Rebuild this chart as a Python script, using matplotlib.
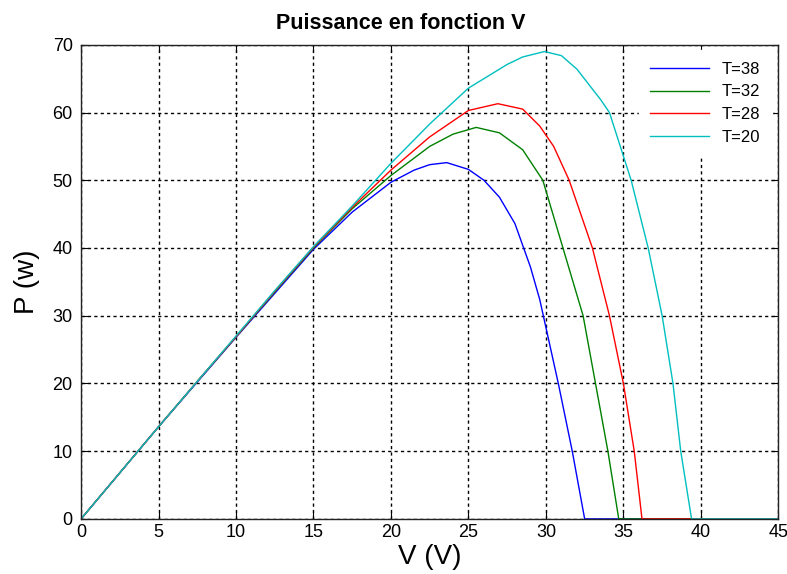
import matplotlib
matplotlib.use("Agg")
import matplotlib.pyplot as plt

plt.rcParams['font.family'] = ['Liberation Sans', 'DejaVu Sans']

# courbes P(V)
v38 = [0, 2.5, 5, 7.5, 10, 12.5, 15, 17.5, 20, 21.5, 22.5, 23.6, 25, 26, 27, 28, 29, 29.6, 30.8, 31.7, 32.5, 45]
p38 = [0, 6.8, 13.6, 20.2, 26.8, 33.3, 39.8, 45.3, 49.7, 51.5, 52.3, 52.6, 51.6, 50, 47.5, 43.6, 37.2, 32.4, 20, 10, 0, 0]

v32 = [0, 2.5, 5, 7.5, 10, 12.5, 15, 17.5, 20, 22.5, 24, 25.5, 27, 28.5, 29.8, 31.1, 32.4, 33.2, 34.0, 34.7, 45]
p32 = [0, 6.8, 13.6, 20.3, 26.9, 33.5, 40.0, 45.8, 50.7, 55.0, 56.8, 57.8, 57.0, 54.5, 50, 40, 30, 20, 10, 0, 0]

v28 = [0, 2.5, 5, 7.5, 10, 12.5, 15, 17.5, 20, 22.5, 25, 26.9, 28.5, 29.6, 30.5, 31.5, 33.0, 34.1, 35.0, 35.7, 36.2, 45]
p28 = [0, 6.8, 13.6, 20.3, 26.9, 33.6, 40.1, 46.0, 51.5, 56.4, 60.3, 61.3, 60.5, 58, 55, 50, 40, 30, 20, 10, 0, 0]

v20 = [0, 2.5, 5, 7.5, 10, 12.5, 15, 17.5, 20, 22.5, 25, 27.5, 28.5, 29.9, 31, 32, 33.5, 34.1, 35.5, 36.6, 37.5, 38.2, 38.7, 39.4, 45]
p20 = [0, 6.8, 13.6, 20.3, 27.0, 33.7, 40.2, 46.2, 52.5, 58.3, 63.6, 67.1, 68.2, 69.0, 68.4, 66.4, 62.0, 60, 50, 40, 30, 20, 10, 0, 0]

labels = ['T=38', 'T=32', 'T=28', 'T=20']
colors = ['#0000ff', '#008000', '#ff0000', '#00bfbf']

fig = plt.figure(figsize=(7.87, 5.74), dpi=100)
ax = fig.add_axes([0.103, 0.096, 0.886, 0.826])

for v, p, lab, c in zip([v38, v32, v28, v20], [p38, p32, p28, p20], labels, colors):
    ax.plot(v, p, color=c, lw=1, label=lab)

ax.set_xlim(0, 45)
ax.set_ylim(0, 70)
ax.set_xticks(range(0, 46, 5))
ax.set_yticks(range(0, 71, 10))
ax.grid(True, color='black', linestyle=(0, (2.3, 2.3)), lw=1)
ax.tick_params(direction='in', top=True, right=True, labelsize=13, length=5)
ax.tick_params(axis='x', pad=4)
ax.tick_params(axis='y', pad=6)
for s in ax.spines.values():
    s.set_linewidth(1)
    s.set_color('#222222')

ax.set_title('Puissance en fonction V', fontsize=15.5, fontweight='bold', pad=11, x=0.459)
ax.set_xlabel('V (V)', fontsize=20, labelpad=2)
ax.set_ylabel('P (w)', fontsize=20, labelpad=9)

leg = ax.legend(loc='upper right', bbox_to_anchor=(0.9746, 0.9042), bbox_transform=fig.transFigure,
                borderaxespad=0, frameon=True, fontsize=12, handlelength=3.5,
                handletextpad=0.8, labelspacing=0.47, borderpad=0.4)
leg.get_frame().set_edgecolor('white')
leg.get_frame().set_facecolor('white')
leg.get_frame().set_alpha(1)
leg.get_frame().set_boxstyle('square')

fig.savefig('out.png', dpi=100)
